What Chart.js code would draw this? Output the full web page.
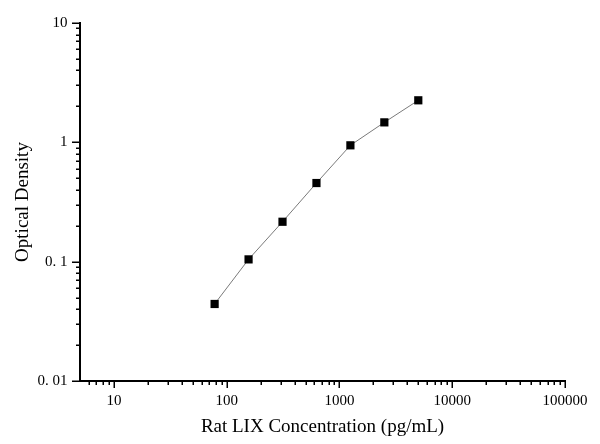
<!DOCTYPE html>
<html>
<head>
<meta charset="utf-8">
<script src="https://cdn.jsdelivr.net/npm/chart.js@4/dist/chart.umd.min.js"></script>
<style>
  html, body { margin: 0; padding: 0; background: #fff; }
  #wrap { width: 600px; height: 444px; }
</style>
</head>
<body>
<div id="wrap"><canvas id="c" width="600" height="444"></canvas></div>
<script>
// ---- data ----
const concentrations = [78.125, 156.25, 312.5, 625, 1250, 2500, 5000];
const opticalDensity = [0.0442, 0.1045, 0.216, 0.456, 0.944, 1.47, 2.25];

// ---- tick values / labels ----
const xMajorTicks = [10, 100, 1000, 10000, 100000];
const xTickLabels = ['10', '100', '1000', '10000', '100000'];
const xMinorTicks = [6, 7, 8, 9, 20, 30, 40, 50, 60, 70, 80, 90,
  200, 300, 400, 500, 600, 700, 800, 900,
  2000, 3000, 4000, 5000, 6000, 7000, 8000, 9000,
  20000, 30000, 40000, 50000, 60000, 70000, 80000, 90000];
const yMajorTicks = [0.01, 0.1, 1, 10];
const yTickLabels = ['0. 01', '0. 1', '1', '10'];
const yMinorTicks = [0.02, 0.03, 0.04, 0.05, 0.06, 0.07, 0.08, 0.09,
  0.2, 0.3, 0.4, 0.5, 0.6, 0.7, 0.8, 0.9,
  2, 3, 4, 5, 6, 7, 8, 9];

const xTitle = 'Rat LIX Concentration (pg/mL)';
const yTitle = 'Optical Density';

const FONT = '"Liberation Serif", "Times New Roman", serif';

const tickMarks = {
  id: 'tickMarks',
  afterDraw(chart) {
    const ctx = chart.ctx;
    const xs = chart.scales.x, ys = chart.scales.y;
    const ca = chart.chartArea;
    ctx.save();
    ctx.strokeStyle = '#000';
    ctx.lineWidth = 1.5;
    ctx.beginPath();
    xMajorTicks.forEach(v => {
      const p = Math.round(xs.getPixelForValue(v)) + 0.25;
      ctx.moveTo(p, ca.bottom); ctx.lineTo(p, ca.bottom + 7);
    });
    xMinorTicks.forEach(v => {
      const p = Math.round(xs.getPixelForValue(v)) + 0.25;
      ctx.moveTo(p, ca.bottom); ctx.lineTo(p, ca.bottom + 4);
    });
    yMajorTicks.forEach(v => {
      const p = Math.round(ys.getPixelForValue(v)) + 0.25;
      ctx.moveTo(ca.left, p); ctx.lineTo(ca.left - 8, p);
    });
    yMinorTicks.forEach(v => {
      const p = Math.round(ys.getPixelForValue(v)) + 0.25;
      ctx.moveTo(ca.left, p); ctx.lineTo(ca.left - 4, p);
    });
    ctx.stroke();
    ctx.restore();
  }
};

new Chart(document.getElementById('c'), {
  type: 'scatter',
  data: {
    datasets: [{
      data: concentrations.map((x, i) => ({ x: x, y: opticalDensity[i] })),
      showLine: true,
      borderColor: '#7a7a7a',
      borderWidth: 1,
      pointStyle: 'rect',
      pointRadius: 5.8,
      pointHoverRadius: 5.8,
      pointBackgroundColor: '#000',
      pointBorderColor: '#000',
      pointBorderWidth: 0,
      tension: 0
    }]
  },
  options: {
    responsive: false,
    animation: false,
    devicePixelRatio: 1,
    events: [],
    layout: { padding: { top: 23, right: 35, left: 0, bottom: 0 } },
    plugins: { legend: { display: false }, tooltip: { enabled: false } },
    scales: {
      x: {
        type: 'logarithmic',
        position: 'bottom',
        min: 5,
        max: 100000,
        afterBuildTicks: (s) => { s.ticks = xMajorTicks.map(v => ({ value: v })); },
        afterFit: (s) => { s.height = 63; },
        ticks: {
          autoSkip: false, maxRotation: 0, minRotation: 0,
          padding: 11.5,
          color: '#000',
          font: { family: FONT, size: 15 },
          callback: (v, i) => xTickLabels[i]
        },
        grid: { display: true, drawOnChartArea: false, drawTicks: false },
        border: { display: true, color: '#000', width: 2 },
        title: {
          display: true, text: xTitle, color: '#000',
          font: { family: FONT, size: 19 },
          padding: { top: 0, bottom: 6 }
        }
      },
      y: {
        type: 'logarithmic',
        position: 'left',
        min: 0.01,
        max: 10,
        afterBuildTicks: (s) => { s.ticks = yMajorTicks.map(v => ({ value: v })); },
        afterFit: (s) => { s.width = 80; },
        ticks: {
          autoSkip: false,
          padding: 12.5,
          color: '#000',
          font: { family: FONT, size: 15 },
          callback: (v, i) => yTickLabels[i]
        },
        grid: { display: true, drawOnChartArea: false, drawTicks: false },
        border: { display: true, color: '#000', width: 2 },
        title: {
          display: true, text: yTitle, color: '#000',
          font: { family: FONT, size: 19 },
          padding: { top: 11.5, bottom: 0 }
        }
      }
    }
  },
  plugins: [tickMarks]
});
</script>
</body>
</html>
